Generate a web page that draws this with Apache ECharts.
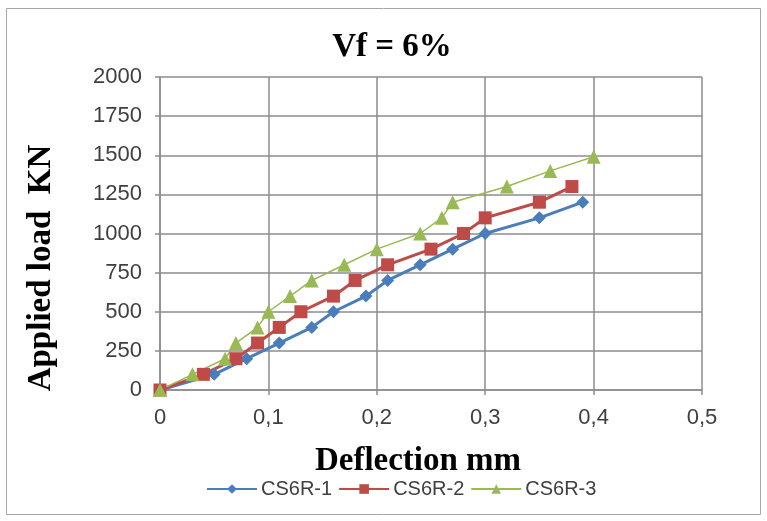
<!DOCTYPE html>
<html><head><meta charset="utf-8">
<script src="https://cdn.jsdelivr.net/npm/echarts@6/dist/echarts.min.js"></script>
<style>html,body{margin:0;padding:0;background:#fff}#c{width:767px;height:521px}</style>
</head><body><div id="c"></div>
<script>
const s1x = [0, 0.05, 0.08, 0.11, 0.14, 0.16, 0.19, 0.21, 0.24, 0.27, 0.30, 0.35, 0.39];
const s1y = [0, 100, 200, 300, 400, 500, 600, 700, 800, 900, 1000, 1100, 1200];
const s2x = [0, 0.04, 0.07, 0.09, 0.11, 0.13, 0.16, 0.18, 0.21, 0.25, 0.28, 0.30, 0.35, 0.38];
const s2y = [0, 100, 200, 300, 400, 500, 600, 700, 800, 900, 1000, 1100, 1200, 1300];
const s3x = [0, 0.03, 0.06, 0.07, 0.09, 0.10, 0.12, 0.14, 0.17, 0.20, 0.24, 0.26, 0.27, 0.32, 0.36, 0.40];
const s3y = [0, 100, 200, 300, 400, 500, 600, 700, 800, 900, 1000, 1100, 1200, 1300, 1400, 1490];
const names = ['CS6R-1', 'CS6R-2', 'CS6R-3'];
const pair = (xs, ys) => xs.map((x, i) => [x, ys[i]]);
const chart = echarts.init(document.getElementById('c'));
const tickFont = {fontFamily: 'Liberation Sans', fontSize: 22, color: '#404040'};
const serifBold = 'bold 33px "Liberation Serif"';
const gridColor = '#8c8c8c';
chart.setOption({
  animation: false,
  graphic: [
    {type: 'rect', shape: {x: 6.5, y: 8.5, width: 754, height: 506},
      style: {fill: null, stroke: '#a6a6a6', lineWidth: 1}, silent: true},
    {type: 'text', x: 392, y: 47, silent: true,
      style: {text: 'Vf = 6%', font: serifBold, fill: '#000', align: 'center', verticalAlign: 'middle'}},
    {type: 'text', x: 418, y: 461, silent: true,
      style: {text: 'Deflection mm', font: serifBold, fill: '#000', align: 'center', verticalAlign: 'middle'}},
    {type: 'text', x: 41, y: 268, rotation: Math.PI / 2, silent: true,
      style: {text: 'Applied load  KN', font: serifBold, fill: '#000', align: 'center', verticalAlign: 'middle'}}
  ],
  grid: {left: 160, right: 65, top: 77, bottom: 131},
  legend: {bottom: 17, left: 201, itemWidth: 50, itemHeight: 12, itemGap: 6,
    textStyle: {fontFamily: 'Liberation Sans', fontSize: 20, color: '#404040', padding: [0, 0, 0, -1]},
    data: names},
  xAxis: {type: 'value', min: 0, max: 0.5, interval: 0.1,
    axisLine: {show: true, lineStyle: {color: gridColor, width: 1.5}},
    axisTick: {show: true, length: 5, lineStyle: {color: gridColor, width: 1.5}},
    splitLine: {show: true, lineStyle: {color: gridColor, width: 1.5}},
    axisLabel: Object.assign({margin: 17, formatter: v => String(Math.round(v*10)/10).replace('.', ',')}, tickFont)},
  yAxis: {type: 'value', min: 0, max: 2000, interval: 250,
    axisLine: {show: true, lineStyle: {color: gridColor, width: 1.5}},
    axisTick: {show: true, length: 5, lineStyle: {color: gridColor, width: 1.5}},
    splitLine: {show: true, lineStyle: {color: gridColor, width: 1.5}},
    axisLabel: Object.assign({margin: 18, formatter: v => String(v)}, tickFont)},
  series: [
    {name: names[0], type: 'line', data: pair(s1x, s1y), symbol: 'diamond', symbolSize: 13,
      itemStyle: {color: '#4a7ebb'}, lineStyle: {width: 3, color: '#4a7ebb'}},
    {name: names[1], type: 'line', data: pair(s2x, s2y), symbol: 'rect', symbolSize: 13,
      itemStyle: {color: '#be4b48'}, lineStyle: {width: 3, color: '#be4b48'}},
    {name: names[2], type: 'line', data: pair(s3x, s3y), symbol: 'triangle', symbolSize: 14,
      itemStyle: {color: '#98b954'}, lineStyle: {width: 1.5, color: '#98b954'}}
  ]
});
</script></body></html>
